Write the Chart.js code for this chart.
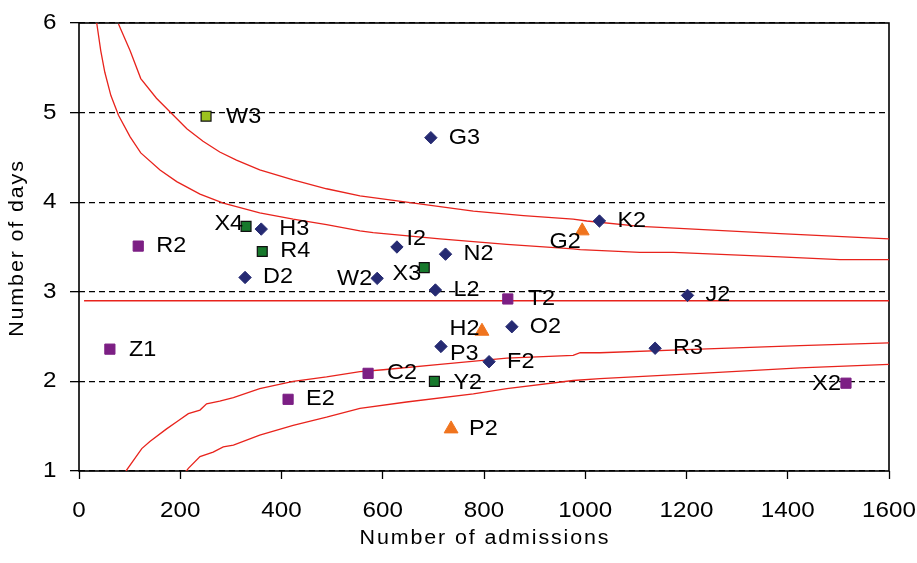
<!DOCTYPE html>
<html>
<head>
<meta charset="utf-8">
<script src="https://cdn.jsdelivr.net/npm/chart.js@4.4.1/dist/chart.umd.min.js"></script>
<style>
  html, body { margin: 0; padding: 0; background: #ffffff; }
  canvas { display: block; }
</style>
</head>
<body>
<canvas id="funnel" width="917" height="563"></canvas>
<script>
// Hospitals: number of admissions against mean length of stay (days)

// Blue diamonds
const diamondNames = ['G3', 'K2', 'I2', 'N2', 'W2', 'L2', 'J2', 'H3', 'D2', 'O2', 'P3', 'F2', 'R3'];
const diamondAdmissions = [695, 1028, 628, 724, 589, 704, 1202, 360, 328, 855, 715, 810, 1138];
const diamondDays = [4.72, 3.79, 3.50, 3.42, 3.15, 3.02, 2.96, 3.70, 3.16, 2.61, 2.39, 2.22, 2.37];

// Purple squares
const purpleNames = ['R2', 'Z1', 'E2', 'T2', 'C2', 'X2'];
const purpleAdmissions = [117, 61, 413, 847, 571, 1515];
const purpleDays = [3.51, 2.36, 1.80, 2.92, 2.09, 1.98];

// Green squares
const greenNames = ['X4', 'R4', 'X3', 'Y2'];
const greenAdmissions = [330, 362, 682, 702];
const greenDays = [3.73, 3.45, 3.27, 2.00];

// Light green square
const limeNames = ['W3'];
const limeAdmissions = [251];
const limeDays = [4.96];

// Orange triangles
const triangleNames = ['G2', 'H2', 'P2'];
const triangleAdmissions = [994, 796, 735];
const triangleDays = [3.68, 2.56, 1.47];

// Overall mean
const meanX = [10, 1600];
const meanY = [2.9, 2.9];

// Control limits
const upperOuterX = [78, 101, 122, 153, 183, 213, 245, 278, 311, 357, 423, 489, 555, 647, 779, 878, 976, 1003, 1108, 1148, 1385, 1600];
const upperOuterY = [5.99, 5.69, 5.38, 5.16, 4.99, 4.82, 4.68, 4.56, 4.47, 4.36, 4.25, 4.15, 4.07, 4.00, 3.90, 3.85, 3.81, 3.79, 3.73, 3.72, 3.65, 3.59];

const upperInnerX = [35, 43, 51, 63, 78, 101, 122, 160, 193, 239, 285, 357, 423, 489, 555, 581, 713, 845, 976, 990, 1108, 1174, 1385, 1503, 1600];
const upperInnerY = [6.00, 5.69, 5.45, 5.19, 4.97, 4.73, 4.55, 4.36, 4.23, 4.09, 3.99, 3.88, 3.81, 3.75, 3.68, 3.66, 3.59, 3.53, 3.48, 3.47, 3.44, 3.44, 3.39, 3.36, 3.36];

const lowerInnerX = [90, 94, 124, 140, 173, 196, 216, 239, 252, 278, 305, 357, 423, 489, 555, 601, 713, 845, 976, 990, 1029, 1227, 1424, 1600];
const lowerInnerY = [0.94, 1.01, 1.25, 1.33, 1.47, 1.56, 1.64, 1.68, 1.75, 1.78, 1.82, 1.92, 2.00, 2.05, 2.11, 2.13, 2.19, 2.26, 2.29, 2.32, 2.32, 2.36, 2.40, 2.43];

const lowerOuterX = [203, 216, 239, 265, 285, 305, 357, 423, 489, 555, 647, 779, 845, 976, 1029, 1227, 1424, 1600];
const lowerOuterY = [0.93, 1.03, 1.16, 1.21, 1.27, 1.29, 1.40, 1.51, 1.60, 1.70, 1.77, 1.86, 1.92, 2.01, 2.03, 2.09, 2.15, 2.19];

// Axis ranges, steps and titles
const xRange = [0, 1600];
const yRange = [1, 6];
const xStep = 200;
const yStep = 1;
const xTitle = 'Number of admissions';
const yTitle = 'Number of days';

// Label placement: [dx, dy, align] relative to the marker; default is to the right
const labelNudge = {
  W3: [20, 1, 'left'],
  T2: [20, 0, 'left'],
  C2: [19, 0, 'left'],
  Y2: [19, 2, 'left'],
  Z1: [19, 1, 'left'],
  I2: [9.5, -8, 'left'],
  P3: [9, 8, 'left'],
  G2: [-1.5, 11, 'right'],
  X3: [-3, 6, 'right'],
  W2: [-5, 1, 'right'],
  X4: [-3, -2, 'right'],
  H2: [-2.5, -2, 'right'],
  X2: [-5, 1, 'right']
};

const FONT = "'Liberation Sans', Arial, Helvetica, sans-serif";
const RED = '#e8231c';

const toPoints = (xs, ys) => xs.map((x, i) => ({ x, y: ys[i] }));

function markerSet(names, xs, ys, style) {
  return Object.assign({
    type: 'scatter',
    data: toPoints(xs, ys),
    names: names,
    order: 0
  }, style);
}

function limitLine(xs, ys) {
  return {
    type: 'scatter',
    data: toPoints(xs, ys),
    showLine: true,
    borderColor: RED,
    borderWidth: 1.3,
    pointRadius: 0,
    fill: false,
    tension: 0,
    order: 5
  };
}

const datasets = [
  markerSet(diamondNames, diamondAdmissions, diamondDays, {
    pointStyle: 'rectRot', pointRadius: 6.2,
    backgroundColor: '#252a72', borderColor: '#252a72', borderWidth: 1
  }),
  markerSet(purpleNames, purpleAdmissions, purpleDays, {
    pointStyle: 'rect', pointRadius: 7.2,
    backgroundColor: '#7c1f84', borderColor: '#7c1f84', borderWidth: 1
  }),
  markerSet(greenNames, greenAdmissions, greenDays, {
    pointStyle: 'rect', pointRadius: 7,
    backgroundColor: '#17792c', borderColor: '#101010', borderWidth: 1.2
  }),
  markerSet(limeNames, limeAdmissions, limeDays, {
    pointStyle: 'rect', pointRadius: 7,
    backgroundColor: '#9cc21e', borderColor: '#101010', borderWidth: 1.2
  }),
  markerSet(triangleNames, triangleAdmissions, triangleDays, {
    pointStyle: 'triangle', pointRadius: 8,
    backgroundColor: '#f0741e', borderColor: '#f0741e', borderWidth: 1
  }),
  limitLine(meanX, meanY),
  limitLine(upperOuterX, upperOuterY),
  limitLine(upperInnerX, upperInnerY),
  limitLine(lowerInnerX, lowerInnerY),
  limitLine(lowerOuterX, lowerOuterY)
];

// Draw a string widened horizontally about its anchor point
function wideText(ctx, text, x, y, align, widen, spacing) {
  ctx.save();
  ctx.translate(x, y);
  ctx.scale(widen, 1);
  ctx.letterSpacing = (spacing || 0) + 'px';
  ctx.textAlign = align;
  ctx.textBaseline = 'middle';
  ctx.fillText(text, 0, 0);
  ctx.restore();
}

// Solid frame round the plot area
const framePlugin = {
  id: 'frame',
  beforeDatasetsDraw(chart) {
    const { ctx, chartArea: a } = chart;
    ctx.save();
    ctx.strokeStyle = '#000000';
    ctx.lineWidth = 1.6;
    ctx.setLineDash([]);
    ctx.strokeRect(a.left, a.top, a.right - a.left, a.bottom - a.top);
    ctx.restore();
  }
};

// Tick values along both axes, placed by the scales
const tickTextPlugin = {
  id: 'tickText',
  afterDraw(chart) {
    const { ctx, scales } = chart;
    ctx.save();
    ctx.font = `22px ${FONT}`;
    ctx.fillStyle = '#000000';
    scales.x.ticks.forEach(t => {
      wideText(ctx, String(t.value), scales.x.getPixelForValue(t.value), 511, 'center', 1.1);
    });
    scales.y.ticks.forEach(t => {
      wideText(ctx, String(t.value), 56.5, scales.y.getPixelForValue(t.value), 'right', 1.1);
    });
    ctx.restore();
  }
};

// Name of each hospital beside its marker
const namesPlugin = {
  id: 'names',
  afterDatasetsDraw(chart) {
    const ctx = chart.ctx;
    ctx.save();
    ctx.font = `21.5px ${FONT}`;
    ctx.fillStyle = '#000000';
    chart.data.datasets.forEach((ds, di) => {
      if (!ds.names) return;
      const meta = chart.getDatasetMeta(di);
      meta.data.forEach((pt, i) => {
        const name = ds.names[i];
        const [dx, dy, align] = labelNudge[name] || [18, 0, 'left'];
        wideText(ctx, name, pt.x + dx, pt.y + dy, align, 1.09);
      });
    });
    ctx.restore();
  }
};

// Axis titles
const titlesPlugin = {
  id: 'titles',
  afterDraw(chart) {
    const { ctx, chartArea: a } = chart;
    ctx.save();
    ctx.font = `19.5px ${FONT}`;
    ctx.fillStyle = '#000000';
    wideText(ctx, xTitle, (a.left + a.right) / 2 + 1, 539, 'center', 1.1, 1.7);
    ctx.translate(18, (a.top + a.bottom) / 2 + 1);
    ctx.rotate(-Math.PI / 2);
    ctx.letterSpacing = '1.7px';
    ctx.textAlign = 'center';
    ctx.textBaseline = 'middle';
    ctx.scale(1.1, 1);
    ctx.fillText(yTitle, 0, 0);
    ctx.restore();
  }
};

new Chart(document.getElementById('funnel'), {
  type: 'scatter',
  data: { datasets },
  plugins: [framePlugin, namesPlugin, tickTextPlugin, titlesPlugin],
  options: {
    responsive: false,
    animation: false,
    events: [],
    layout: { padding: { left: 0, top: 23, right: 28, bottom: 0 } },
    plugins: {
      legend: { display: false },
      tooltip: { enabled: false }
    },
    scales: {
      x: {
        type: 'linear',
        min: xRange[0],
        max: xRange[1],
        afterFit(scale) { scale.height = 92; },
        ticks: { stepSize: xStep, display: false },
        grid: {
          display: true,
          drawOnChartArea: false,
          drawTicks: true,
          tickLength: 8,
          tickColor: '#000000',
          tickWidth: 1.3,
          tickBorderDash: []
        },
        border: { display: false }
      },
      y: {
        type: 'linear',
        min: yRange[0],
        max: yRange[1],
        afterFit(scale) { scale.width = 79; },
        ticks: { stepSize: yStep, display: false },
        grid: {
          display: true,
          drawOnChartArea: true,
          drawTicks: true,
          color: '#000000',
          lineWidth: 1.3,
          tickLength: 9,
          tickColor: '#000000',
          tickWidth: 1.3,
          tickBorderDash: []
        },
        border: { display: false, dash: [6, 4] }
      }
    }
  }
});
</script>
</body>
</html>
